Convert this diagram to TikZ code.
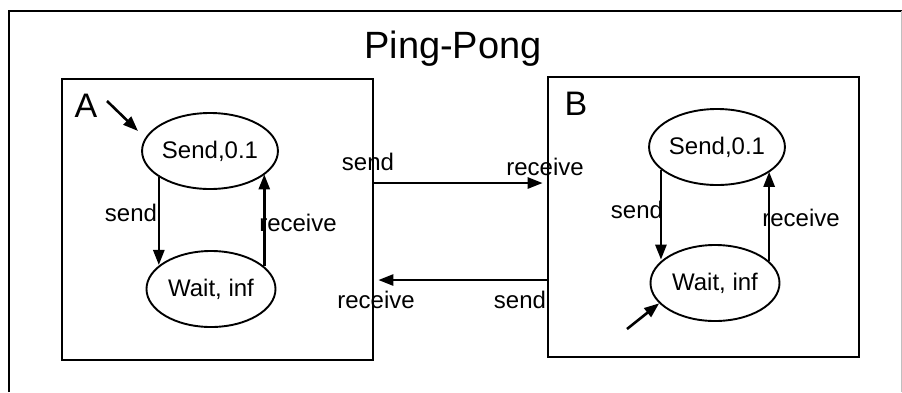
\documentclass[tikz,border=0pt]{standalone}
\usepackage{fontspec}
\setmainfont{Liberation Sans}
\usetikzlibrary{shapes.geometric,arrows.meta}
\begin{document}
\begin{tikzpicture}[x=1pt,y=-1pt,
  state/.style={draw,ellipse,line width=1.9pt,minimum width=129pt,minimum height=76pt,
                inner sep=0pt,font=\fontsize{24}{24}\selectfont},
  machine/.style={draw,rectangle,line width=2.7pt,inner sep=0pt},
  lbl/.style={font=\fontsize{24}{24}\selectfont,inner sep=0pt},
  big/.style={font=\fontsize{34}{34}\selectfont,inner sep=0pt},
  arr/.style={line width=2.6pt,-{Triangle[length=15pt,width=11pt]}}]
\useasboundingbox (0,0) rectangle (902,392);
\fill[white] (0,0) rectangle (902,392);

% outer frame (top and left edges, right edge faint)
\draw[line width=2.8pt] (9,392) -- (9,11) -- (902,11);
\draw[black!25,line width=1pt] (901,11) -- (901,392);

% title
\node[font=\fontsize{38}{38}\selectfont,inner sep=0pt,anchor=base] (title) at (453,58) {Ping-Pong};

% the two machines
\node[machine,minimum width=311pt,minimum height=281pt] (boxA) at (217.5,219.5) {};
\node[machine,minimum width=311pt,minimum height=280pt] (boxB) at (703.5,217) {};
\node[big] (nameA) at (86,106) {A};
\node[big] (nameB) at (576,104) {B};

% states of A
\node[state] (sA) at (210,151) {Send,0.1};
\node[state] (wA) at (211,289) {Wait, inf};
% states of B
\node[state] (sB) at (717,147) {Send,0.1};
\node[state] (wB) at (715,283) {Wait, inf};

% transitions inside A
\draw[arr] (sA.207) -- (sA.207 |- wA.155);
\draw[arr] (wA.23) -- (wA.23 |- sA.337);
\node[lbl] (lAs) at (131,213) {send};
\node[lbl] (lAr) at (298,223) {receive};

% transitions inside B
\draw[arr] (sB.202) -- (sB.202 |- wB.156);
\draw[arr] (wB.22) -- (wB.22 |- sB.335);
\node[lbl] (lBs) at (637,210) {send};
\node[lbl] (lBr) at (801,218) {receive};

% initial states
\coordinate (iA) at (107,101);
\coordinate (iAtip) at (138,131);
\draw[arr] (iA) -- (iAtip);
\coordinate (iB) at (627,329);
\draw[arr] (iB) -- (wB.200);

% messages between the machines
\draw[arr,shorten >=4pt] (boxA.east |- 0,183) -- (boxB.west |- 0,183);
\draw[arr,shorten >=4pt] (boxB.west |- 0,280) -- (boxA.east |- 0,280);
\node[lbl] (mAs) at (368,162) {send};
\node[lbl] (mBr) at (545,167) {receive};
\node[lbl] (mAr) at (376,300) {receive};
\node[lbl] (mBs) at (520,300) {send};
\end{tikzpicture}
\end{document}
